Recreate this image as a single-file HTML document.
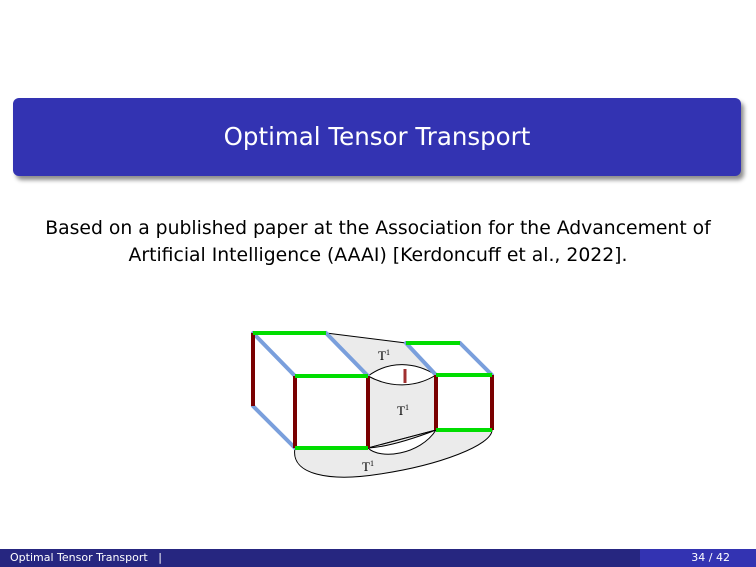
<!DOCTYPE html>
<html><head><meta charset="utf-8"><style>
html,body{margin:0;padding:0;background:#fff;}
body{width:756px;height:567px;position:relative;overflow:hidden;font-family:"DejaVu Sans","Liberation Sans",sans-serif;}
#banner{position:absolute;left:13px;top:98px;width:728px;height:78px;background:#3333b2;border-radius:6px;box-shadow:3px 4px 4px rgba(0,0,0,0.45);color:#fff;font-size:24.5px;font-weight:normal;text-align:center;line-height:78px;}
#body{position:absolute;left:0;width:756px;top:215px;text-align:center;font-size:18.8px;line-height:27px;color:#000;}
#fl{position:absolute;left:0;top:549px;width:640px;height:18px;background:#262680;color:#fff;font-size:11px;line-height:18px;padding-left:10px;box-sizing:border-box;}
#fr{position:absolute;left:640px;top:549px;width:116px;height:18px;background:#3333b2;color:#fff;font-size:11px;line-height:18px;text-align:right;padding-right:26px;box-sizing:border-box;}
svg{position:absolute;left:0;top:0;}
</style></head><body>
<div id="banner">Optimal Tensor Transport</div>
<div id="body">Based on a published paper at the Association for the Advancement of<br>Artificial Intelligence (AAAI) [Kerdoncuff et al., 2022].</div>
<svg width="756" height="567" viewBox="0 0 756 567">
<g stroke="#000" stroke-width="1" fill="#ebebeb">
<path d="M326,333 L406,343 L436,375 L368,376 Z"/>
<path d="M368,376 L436,375 L436,430 L368,448 Z"/>
<path d="M295,448 C290,475 330,482 380,474 C440,465 492,445 492,430 L436,430 L368,448 Z"/>
<path d="M368,376 C390,360 415,362 436,375 C415,388 390,388 368,376 Z" fill="#fff"/>
<path d="M368,448 C380,460 420,455 436,430 C410,440 385,447 368,448 Z" fill="#fff"/>
</g>
<line x1="405" y1="369" x2="405" y2="383" stroke="#a03030" stroke-width="3"/>
<g stroke="#7a9fdc" stroke-width="4" stroke-linecap="round">
<line x1="253" y1="333" x2="295" y2="376"/>
<line x1="326" y1="333" x2="368" y2="376"/>
<line x1="253" y1="406" x2="295" y2="448"/>
<line x1="406" y1="343" x2="436" y2="375"/>
<line x1="460" y1="343" x2="492" y2="375"/>
</g>
<g stroke="#7a0000" stroke-width="4">
<line x1="253" y1="333" x2="253" y2="406"/>
<line x1="295" y1="376" x2="295" y2="448"/>
<line x1="368" y1="376" x2="368" y2="448"/>
<line x1="436" y1="375" x2="436" y2="430"/>
<line x1="492" y1="375" x2="492" y2="430"/>
</g>
<g stroke="#00dd00" stroke-width="4">
<line x1="253" y1="333" x2="326" y2="333"/>
<line x1="295" y1="376" x2="368" y2="376"/>
<line x1="295" y1="448" x2="368" y2="448"/>
<line x1="406" y1="343" x2="460" y2="343"/>
<line x1="436" y1="375" x2="492" y2="375"/>
<line x1="436" y1="430" x2="492" y2="430"/>
</g>
<g font-family="Liberation Serif,serif" font-size="13" fill="#000">
<text x="378" y="360">T<tspan font-size="8" dy="-5">1</tspan></text>
<text x="397" y="415">T<tspan font-size="8" dy="-5">1</tspan></text>
<text x="362" y="471">T<tspan font-size="8" dy="-5">1</tspan></text>
</g>
</svg>
<div id="fl">Optimal Tensor Transport &nbsp;&nbsp;|</div>
<div id="fr">34 / 42</div>
</body></html>
